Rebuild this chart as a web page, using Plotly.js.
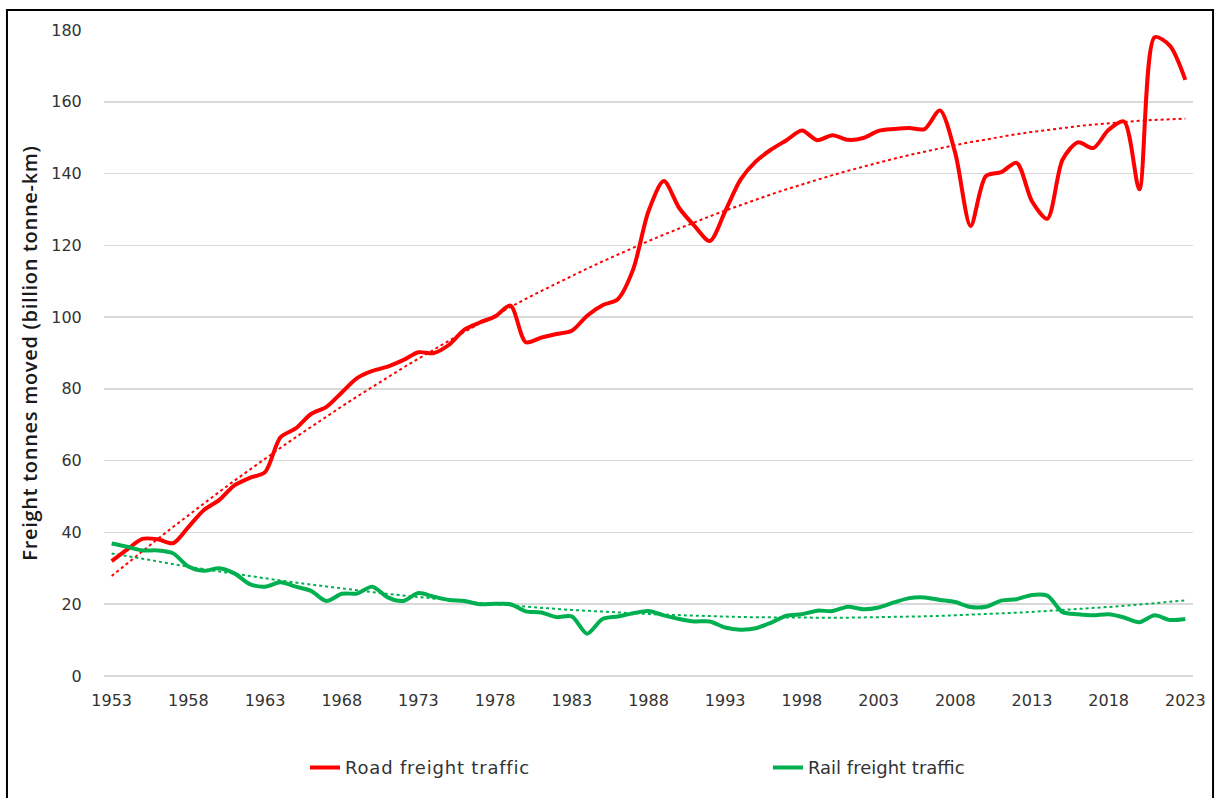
<!DOCTYPE html>
<html>
<head>
<meta charset="utf-8">
<script src="https://cdn.plot.ly/plotly-3.0.1.min.js"></script>
<style>
  html, body { margin: 0; padding: 0; background: #ffffff; }
  #chart { width: 1222px; height: 798px; }
  #chart .legendtext { letter-spacing: 0.8px; }
  #chart .ytitle { letter-spacing: 0.7px; }
</style>
</head>
<body>
<div id="chart"></div>
<script>
// ---- Data ----
const years = [];
for (let y = 1953; y <= 2023; y++) years.push(y);

const roadFreight = [
  32.0, 35.2, 38.2, 38.1, 37.0, 41.5, 46.2, 49.0, 53.1, 55.2,
  56.8, 66.5, 69.0, 73.0, 75.0, 79.0, 83.0, 85.0, 86.2, 88.0,
  90.2, 90.0, 92.3, 96.5, 98.5, 100.2, 103.2, 93.0, 94.3, 95.3,
  96.2, 100.4, 103.3, 105.0, 113.3, 129.5, 137.9, 130.4, 125.4, 121.2,
  129.5, 138.3, 143.4, 146.7, 149.3, 152.0, 149.3, 150.7, 149.4, 149.9,
  151.9, 152.4, 152.7, 152.4, 157.6, 145.7, 125.4, 139.3, 140.4, 143.0,
  132.3, 127.4, 143.9, 148.7, 147.1, 152.2, 154.5, 135.6, 178.0, 175.6,
  166.1
];

const railFreight = [
  36.9, 36.0, 35.0, 35.0, 34.2, 30.5, 29.3, 30.0, 28.6, 25.6,
  24.9, 26.1, 24.9, 23.7, 20.9, 22.9, 23.0, 24.9, 21.9, 20.9,
  23.1, 22.1, 21.2, 20.9, 20.0, 20.1, 20.0, 18.0, 17.7, 16.4,
  16.6, 11.8, 15.9, 16.6, 17.5, 18.1, 16.9, 15.9, 15.2, 15.2,
  13.5, 12.9, 13.3, 14.9, 16.8, 17.2, 18.2, 18.1, 19.3, 18.6,
  19.1, 20.5, 21.7, 21.9, 21.2, 20.6, 19.2, 19.3, 21.0, 21.4,
  22.6, 22.4, 17.8, 17.2, 16.9, 17.2, 16.3, 15.0, 16.9, 15.6,
  15.9
];

const seriesNames = ["Road freight traffic", "Rail freight traffic"];
const xTickVals = [1953, 1958, 1963, 1968, 1973, 1978, 1983, 1988, 1993, 1998, 2003, 2008, 2013, 2018, 2023];
const yTitle = "Freight tonnes moved (billion tonne-km)";

// ---- Polynomial (order 2) trendline, least squares on the series ----
function polyTrend(xs, ys) {
  const n = xs.length;
  const t = xs.map((x, i) => i + 1);
  let S = [0, 0, 0, 0, 0], T = [0, 0, 0];
  for (let i = 0; i < n; i++) {
    const a = t[i];
    for (let k = 0; k < 5; k++) S[k] += Math.pow(a, k);
    for (let k = 0; k < 3; k++) T[k] += ys[i] * Math.pow(a, k);
  }
  const M = [
    [S[0], S[1], S[2], T[0]],
    [S[1], S[2], S[3], T[1]],
    [S[2], S[3], S[4], T[2]]
  ];
  for (let c = 0; c < 3; c++) {
    let p = c;
    for (let r = c + 1; r < 3; r++) if (Math.abs(M[r][c]) > Math.abs(M[p][c])) p = r;
    [M[c], M[p]] = [M[p], M[c]];
    for (let r = 0; r < 3; r++) {
      if (r === c) continue;
      const f = M[r][c] / M[c][c];
      for (let k = c; k < 4; k++) M[r][k] -= f * M[c][k];
    }
  }
  const coef = [M[0][3] / M[0][0], M[1][3] / M[1][1], M[2][3] / M[2][2]];
  return t.map(a => coef[0] + coef[1] * a + coef[2] * a * a);
}

const RED = "#FF0000";
const GREEN = "#00B050";
const FONT = "DejaVu Sans, Open Sans, sans-serif";
const TITLE_FONT = "Open Sans, DejaVu Sans, sans-serif";

const traces = [
  {
    x: years, y: polyTrend(years, roadFreight), type: "scatter", mode: "lines",
    line: { color: RED, width: 2, dash: "dot" }, showlegend: false, hoverinfo: "skip"
  },
  {
    x: years, y: polyTrend(years, railFreight), type: "scatter", mode: "lines",
    line: { color: GREEN, width: 2, dash: "dot" }, showlegend: false, hoverinfo: "skip"
  },
  {
    x: years, y: roadFreight, type: "scatter", mode: "lines", name: seriesNames[0],
    line: { color: RED, width: 4, shape: "spline", smoothing: 0.8 }, legend: "legend"
  },
  {
    x: years, y: railFreight, type: "scatter", mode: "lines", name: seriesNames[1],
    line: { color: GREEN, width: 4, shape: "spline", smoothing: 0.8 }, legend: "legend2"
  }
];

const legendCommon = {
  orientation: "h",
  xanchor: "left",
  y: -0.142, yanchor: "middle",
  font: { family: FONT, size: 18, color: "#333333" },
  bgcolor: "rgba(0,0,0,0)",
  entrywidth: 260,
  entrywidthmode: "pixels"
};

const layout = {
  width: 1222,
  height: 798,
  margin: { l: 104, r: 29, t: 30, b: 120 },
  paper_bgcolor: "#ffffff",
  plot_bgcolor: "#ffffff",
  font: { family: FONT, color: "#333333", size: 16 },
  xaxis: {
    type: "linear",
    range: [1952.5, 2023.5],
    tickvals: xTickVals,
    ticktext: xTickVals.map(String),
    showgrid: false,
    zeroline: false,
    showline: false,
    ticks: "outside",
    ticklen: 10,
    tickcolor: "rgba(0,0,0,0)",
    tickfont: { family: FONT, size: 16, color: "#333333" },
    fixedrange: true
  },
  yaxis: {
    range: [0, 180],
    dtick: 20,
    tick0: 0,
    showgrid: true,
    gridcolor: "#d9d9d9",
    gridwidth: 1.5,
    zeroline: true,
    zerolinecolor: "#d9d9d9",
    zerolinewidth: 1.5,
    showline: false,
    ticks: "outside",
    ticklen: 18,
    tickcolor: "rgba(0,0,0,0)",
    tickfont: { family: FONT, size: 16, color: "#333333" },
    title: {
      text: yTitle,
      font: { family: TITLE_FONT, size: 20, color: "#1a1a1a", weight: 600 },
      standoff: 8
    },
    fixedrange: true
  },
  legend: Object.assign({}, legendCommon, { x: 0.1846 }),
  legend2: Object.assign({}, legendCommon, { x: 0.6097 }),
  shapes: [
    {
      type: "rect", xref: "paper", yref: "paper",
      x0: -0.0891, x1: 1.0184, y0: -0.2, y1: 1.031,
      line: { color: "#000000", width: 2 }, fillcolor: "rgba(0,0,0,0)", layer: "above"
    }
  ],
  showlegend: true
};

Plotly.newPlot("chart", traces, layout, { staticPlot: true, displayModeBar: false });
</script>
</body>
</html>
